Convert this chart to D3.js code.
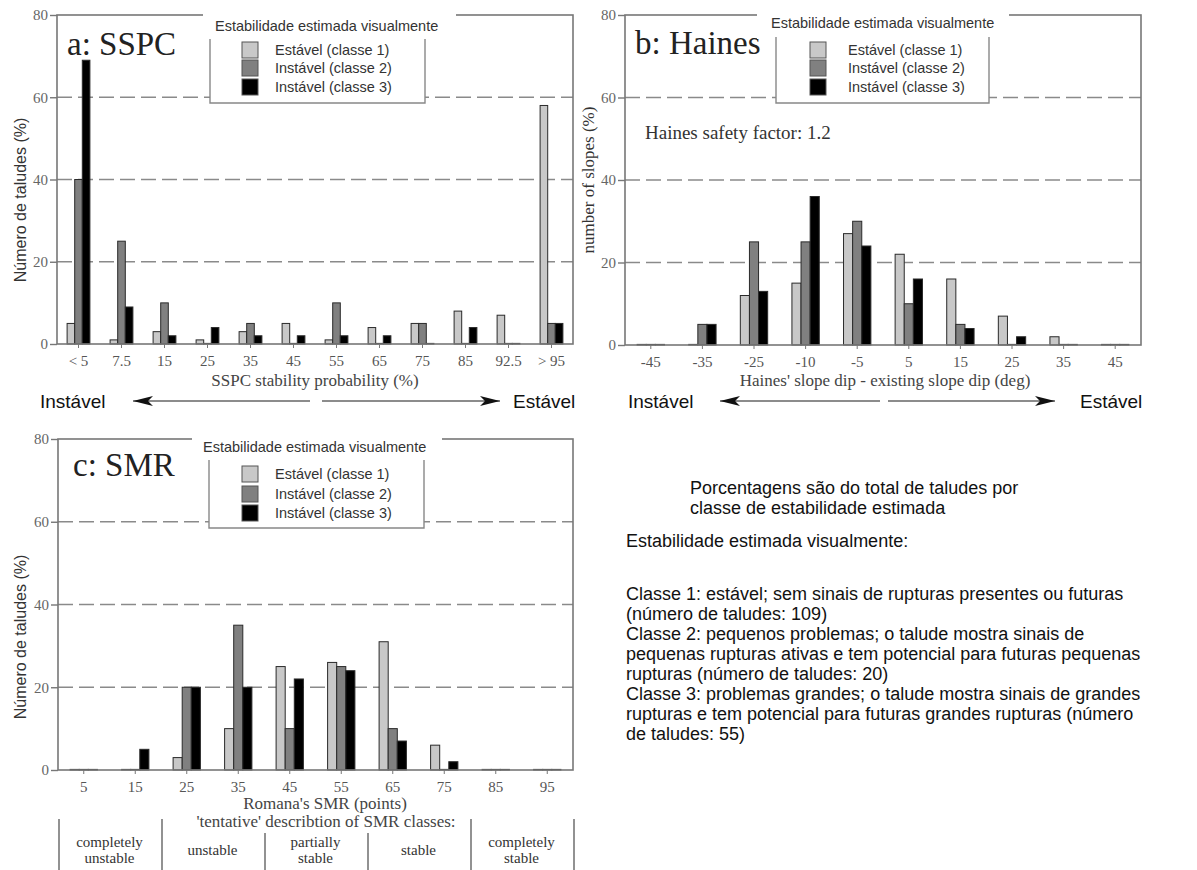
<!DOCTYPE html>
<html>
<head>
<meta charset="utf-8">
<script src="https://cdn.jsdelivr.net/npm/d3@7"></script>
<style>
  html, body { margin: 0; padding: 0; background: #fff; }
  svg { display: block; }
</style>
</head>
<body>
<script>
// Series shared by the three histograms (visually estimated stability class)
const seriesNames = ["Estável (classe 1)", "Instável (classe 2)", "Instável (classe 3)"];
const seriesColors = ["#c8c8c8", "#808080", "#000000"];
const yTicks = [0, 20, 40, 60, 80];

// a: SSPC stability probability (%)
const sspcCategories = ["< 5", "7.5", "15", "25", "35", "45", "55", "65", "75", "85", "92.5", "> 95"];
const sspcClass1 = [5, 1, 3, 1, 3, 5, 1, 4, 5, 8, 7, 58];
const sspcClass2 = [40, 25, 10, 0, 5, 0, 10, 0, 5, 0, 0, 5];
const sspcClass3 = [69, 9, 2, 4, 2, 2, 2, 2, 0, 4, 0, 5];

// b: Haines' slope dip - existing slope dip (deg)
const hainesCategories = ["-45", "-35", "-25", "-10", "-5", "5", "15", "25", "35", "45"];
const hainesClass1 = [0, 0, 12, 15, 27, 22, 16, 7, 2, 0];
const hainesClass2 = [0, 5, 25, 25, 30, 10, 5, 0, 0, 0];
const hainesClass3 = [0, 5, 13, 36, 24, 16, 4, 2, 0, 0];

// c: Romana's SMR (points)
const smrCategories = ["5", "15", "25", "35", "45", "55", "65", "75", "85", "95"];
const smrClass1 = [0, 0, 3, 10, 25, 26, 31, 6, 0, 0];
const smrClass2 = [0, 0, 20, 35, 10, 25, 10, 0, 0, 0];
const smrClass3 = [0, 5, 20, 20, 22, 24, 7, 2, 0, 0];

// SMR class descriptions shown under panel c
const smrClassLabels = [["completely", "unstable"], ["unstable"], ["partially", "stable"], ["stable"], ["completely", "stable"]];

// Explanatory notes
const noteHeader = ["Porcentagens são do total de taludes por", "classe de estabilidade estimada"];
const noteTitle = "Estabilidade estimada visualmente:";
const noteLines = [
  "Classe 1: estável; sem sinais de rupturas presentes ou futuras",
  "(número de taludes: 109)",
  "Classe 2: pequenos problemas; o talude mostra sinais de",
  "pequenas rupturas ativas e tem potencial para futuras pequenas",
  "rupturas (número de taludes: 20)",
  "Classe 3: problemas grandes; o talude mostra sinais de grandes",
  "rupturas e tem potencial para futuras grandes rupturas (número",
  "de taludes: 55)"
];

const SERIF = "'Liberation Serif', 'Times New Roman', serif";
const SANS = "'Liberation Sans', Arial, sans-serif";

const svg = d3.select("body").append("svg")
  .attr("width", 1197).attr("height", 870)
  .attr("viewBox", "0 0 1197 870");

// arrowhead marker
const defs = svg.append("defs");
defs.append("marker")
  .attr("id", "head")
  .attr("viewBox", "0 0 20 10")
  .attr("refX", 20).attr("refY", 5)
  .attr("markerWidth", 20).attr("markerHeight", 10)
  .attr("markerUnits", "userSpaceOnUse")
  .attr("orient", "auto")
  .append("path")
  .attr("d", "M0,0 L20,5 L0,10 L5,5 Z")
  .attr("fill", "#111");

function drawPanel(p) {
  const g = svg.append("g");
  const x = d3.scaleBand().domain(p.categories).range([p.x0, p.x1]).paddingInner(0).paddingOuter(0);
  const bw = x.bandwidth();
  const xs = d3.scaleBand().domain(d3.range(3)).range([bw * 0.235, bw * 0.765]);
  const y = d3.scaleLinear().domain([0, 80]).range([p.yBottom, p.yTop]);

  // dashed gridlines
  g.append("g").selectAll("line")
    .data(yTicks.filter(t => t > 0 && t < 80))
    .join("line")
    .attr("x1", p.x0).attr("x2", p.x1)
    .attr("y1", d => y(d)).attr("y2", d => y(d))
    .attr("stroke", "#8a8a8a").attr("stroke-width", 1.6)
    .attr("stroke-dasharray", "15,6");

  // grouped bars (a zero value still shows as a flat outline on the baseline)
  const rows = p.categories.map((c, i) => ({ c, v: p.values.map(s => s[i]) }));
  g.append("g").selectAll("g")
    .data(rows)
    .join("g")
    .attr("transform", d => `translate(${x(d.c)},0)`)
    .selectAll("rect")
    .data(d => d.v.map((v, k) => ({ v, k })))
    .join("rect")
    .attr("x", d => xs(d.k))
    .attr("width", xs.bandwidth())
    .attr("y", d => Math.min(y(d.v), y(0) - 0.6))
    .attr("height", d => Math.max(y(0) - y(d.v), 0.6))
    .attr("fill", d => seriesColors[d.k])
    .attr("stroke", "#2a2a2a").attr("stroke-width", 1);

  // frame
  g.append("rect")
    .attr("x", p.x0).attr("y", p.yTop)
    .attr("width", p.x1 - p.x0).attr("height", p.yBottom - p.yTop)
    .attr("fill", "none").attr("stroke", "#777").attr("stroke-width", 1.6);

  // y axis
  const ya = g.append("g").attr("transform", `translate(${p.x0},0)`)
    .call(d3.axisLeft(y).tickValues(yTicks).tickSize(7).tickPadding(2));
  ya.select(".domain").remove();
  ya.selectAll("line").attr("stroke", "#777").attr("stroke-width", 1.4);
  ya.selectAll("text").attr("font-family", SERIF).attr("font-size", 15).attr("fill", "#666");

  // x axis
  const xa = g.append("g").attr("transform", `translate(0,${p.yBottom})`)
    .call(d3.axisBottom(x).tickSize(4).tickPadding(7));
  xa.select(".domain").remove();
  xa.selectAll("line").attr("stroke", "#777");
  xa.selectAll("text").attr("font-family", SERIF).attr("font-size", 15).attr("fill", "#555");

  // axis titles
  g.append("text")
    .attr("x", p.xTitle.x).attr("y", p.xTitle.y)
    .attr("text-anchor", "middle")
    .attr("font-family", SERIF).attr("font-size", 17).attr("fill", "#444")
    .text(p.xTitle.text);
  g.append("text")
    .attr("transform", `translate(${p.yTitle.x},${p.yTitle.y}) rotate(-90)`)
    .attr("text-anchor", "middle")
    .attr("font-family", p.yTitle.font).attr("font-size", p.yTitle.size).attr("fill", "#333")
    .text(p.yTitle.text);

  // panel title
  g.append("text")
    .attr("x", p.title.x).attr("y", p.title.y)
    .attr("font-family", SERIF).attr("font-size", 33).attr("fill", "#222")
    .text(p.title.text);

  // legend
  const L = p.legend;
  g.append("rect")
    .attr("x", L.bg0).attr("y", L.bgTop)
    .attr("width", L.bg1 - L.bg0).attr("height", L.boxTop - L.bgTop + 2)
    .attr("fill", "#fff");
  g.append("rect")
    .attr("x", L.box0).attr("y", L.boxTop)
    .attr("width", L.box1 - L.box0).attr("height", L.boxBottom - L.boxTop)
    .attr("fill", "#fff");
  g.append("path")
    .attr("d", `M${L.box0},${L.boxTop} V${L.boxBottom} H${L.box1} V${L.boxTop}`)
    .attr("fill", "none").attr("stroke", "#888").attr("stroke-width", 1.4);
  g.append("text")
    .attr("x", L.titleX).attr("y", L.titleY)
    .attr("font-family", SANS).attr("font-size", 14.5).attr("fill", "#333")
    .text("Estabilidade estimada visualmente");
  const li = g.append("g").selectAll("g")
    .data(seriesNames)
    .join("g")
    .attr("transform", (d, i) => `translate(0,${L.rows[i]})`);
  li.append("rect")
    .attr("x", L.swX).attr("y", -8).attr("width", 16).attr("height", 16)
    .attr("fill", (d, i) => seriesColors[i])
    .attr("stroke", "#555").attr("stroke-width", 1);
  li.append("text")
    .attr("x", L.textX).attr("y", 5)
    .attr("font-family", SANS).attr("font-size", 14.5).attr("fill", "#333")
    .text(d => d);

  return { g, x, y };
}

drawPanel({
  x0: 57, x1: 573, yTop: 15, yBottom: 344,
  categories: sspcCategories,
  values: [sspcClass1, sspcClass2, sspcClass3],
  title: { text: "a: SSPC", x: 67, y: 55 },
  xTitle: { text: "SSPC stability probability (%)", x: 315, y: 386 },
  yTitle: { text: "Número de taludes (%)", x: 26, y: 200, font: SANS, size: 16 },
  legend: { bg0: 203, bg1: 456, bgTop: 8, box0: 210, box1: 425, boxTop: 39, boxBottom: 103,
            titleX: 215, titleY: 31, swX: 242, textX: 275, rows: [50, 68, 87] }
});

drawPanel({
  x0: 625, x1: 1141, yTop: 15, yBottom: 345,
  categories: hainesCategories,
  values: [hainesClass1, hainesClass2, hainesClass3],
  title: { text: "b: Haines", x: 635, y: 54 },
  xTitle: { text: "Haines' slope dip - existing slope dip  (deg)", x: 885, y: 386 },
  yTitle: { text: "number of slopes (%)", x: 594, y: 180, font: SERIF, size: 17 },
  legend: { bg0: 757, bg1: 1009, bgTop: 6, box0: 776, box1: 989, boxTop: 37, boxBottom: 103,
            titleX: 771, titleY: 28, swX: 810, textX: 848, rows: [50, 68, 87] }
});

drawPanel({
  x0: 58, x1: 573, yTop: 439, yBottom: 770,
  categories: smrCategories,
  values: [smrClass1, smrClass2, smrClass3],
  title: { text: "c: SMR", x: 73, y: 476 },
  xTitle: { text: "Romana's SMR (points)", x: 325, y: 809 },
  yTitle: { text: "Número de taludes (%)", x: 26, y: 637, font: SANS, size: 16 },
  legend: { bg0: 192, bg1: 442, bgTop: 430, box0: 209, box1: 424, boxTop: 460, boxBottom: 528,
            titleX: 203, titleY: 452, swX: 242, textX: 275, rows: [474, 494, 513] }
});

// Haines safety factor annotation
svg.append("text")
  .attr("x", 645).attr("y", 139)
  .attr("font-family", SERIF).attr("font-size", 19).attr("fill", "#333")
  .text("Haines safety factor: 1.2");

// stability direction arrows
function stabilityArrow(leftX, gapL, gapR, rightX, yPos, labelL, labelR) {
  const g = svg.append("g");
  g.append("line").attr("x1", gapL).attr("y1", yPos).attr("x2", leftX).attr("y2", yPos)
    .attr("stroke", "#666").attr("stroke-width", 1.6).attr("marker-end", "url(#head)");
  g.append("line").attr("x1", gapR).attr("y1", yPos).attr("x2", rightX).attr("y2", yPos)
    .attr("stroke", "#666").attr("stroke-width", 1.6).attr("marker-end", "url(#head)");
  g.append("text").attr("x", labelL).attr("y", yPos + 7)
    .attr("font-family", SANS).attr("font-size", 19).attr("fill", "#111").text("Instável");
  g.append("text").attr("x", labelR).attr("y", yPos + 7)
    .attr("font-family", SANS).attr("font-size", 19).attr("fill", "#111").text("Estável");
}
stabilityArrow(133, 310, 322, 500, 401, 40, 513);
stabilityArrow(720, 880, 888, 1055, 401, 628, 1080);

// SMR class description row
svg.append("text")
  .attr("x", 326).attr("y", 827)
  .attr("text-anchor", "middle")
  .attr("font-family", SERIF).attr("font-size", 17).attr("fill", "#444")
  .text("'tentative' describtion of SMR classes:");

const classEdges = [0, 20, 40, 60, 80, 100];
const smrX = d3.scaleLinear().domain([0, 100]).range([58, 573]);
const edgeTop = [819, 819, 833, 833, 819, 819];
svg.append("g").selectAll("line")
  .data(classEdges)
  .join("line")
  .attr("x1", d => smrX(d) + 1).attr("x2", d => smrX(d) + 1)
  .attr("y1", (d, i) => edgeTop[i]).attr("y2", 870)
  .attr("stroke", "#777").attr("stroke-width", 1.6);

const cl = svg.append("g").selectAll("text")
  .data(smrClassLabels)
  .join("text")
  .attr("text-anchor", "middle")
  .attr("font-family", SERIF).attr("font-size", 15).attr("fill", "#333")
  .attr("x", (d, i) => smrX(i * 20 + 10))
  .attr("y", d => d.length > 1 ? 847 : 855);
cl.selectAll("tspan")
  .data(d => d)
  .join("tspan")
  .attr("x", function () { return d3.select(this.parentNode).attr("x"); })
  .attr("dy", (d, i) => i === 0 ? 0 : 16)
  .text(d => d);

// notes block
const notes = svg.append("g").attr("font-family", SANS).attr("fill", "#111").attr("font-size", 18);
notes.selectAll("text.h")
  .data(noteHeader)
  .join("text").attr("class", "h")
  .attr("x", 690).attr("y", (d, i) => 494 + i * 20)
  .text(d => d);
notes.append("text").attr("x", 626).attr("y", 547).text(noteTitle);
notes.selectAll("text.l")
  .data(noteLines)
  .join("text").attr("class", "l")
  .attr("x", 626).attr("y", (d, i) => 600 + i * 20)
  .text(d => d);
</script>
</body>
</html>
